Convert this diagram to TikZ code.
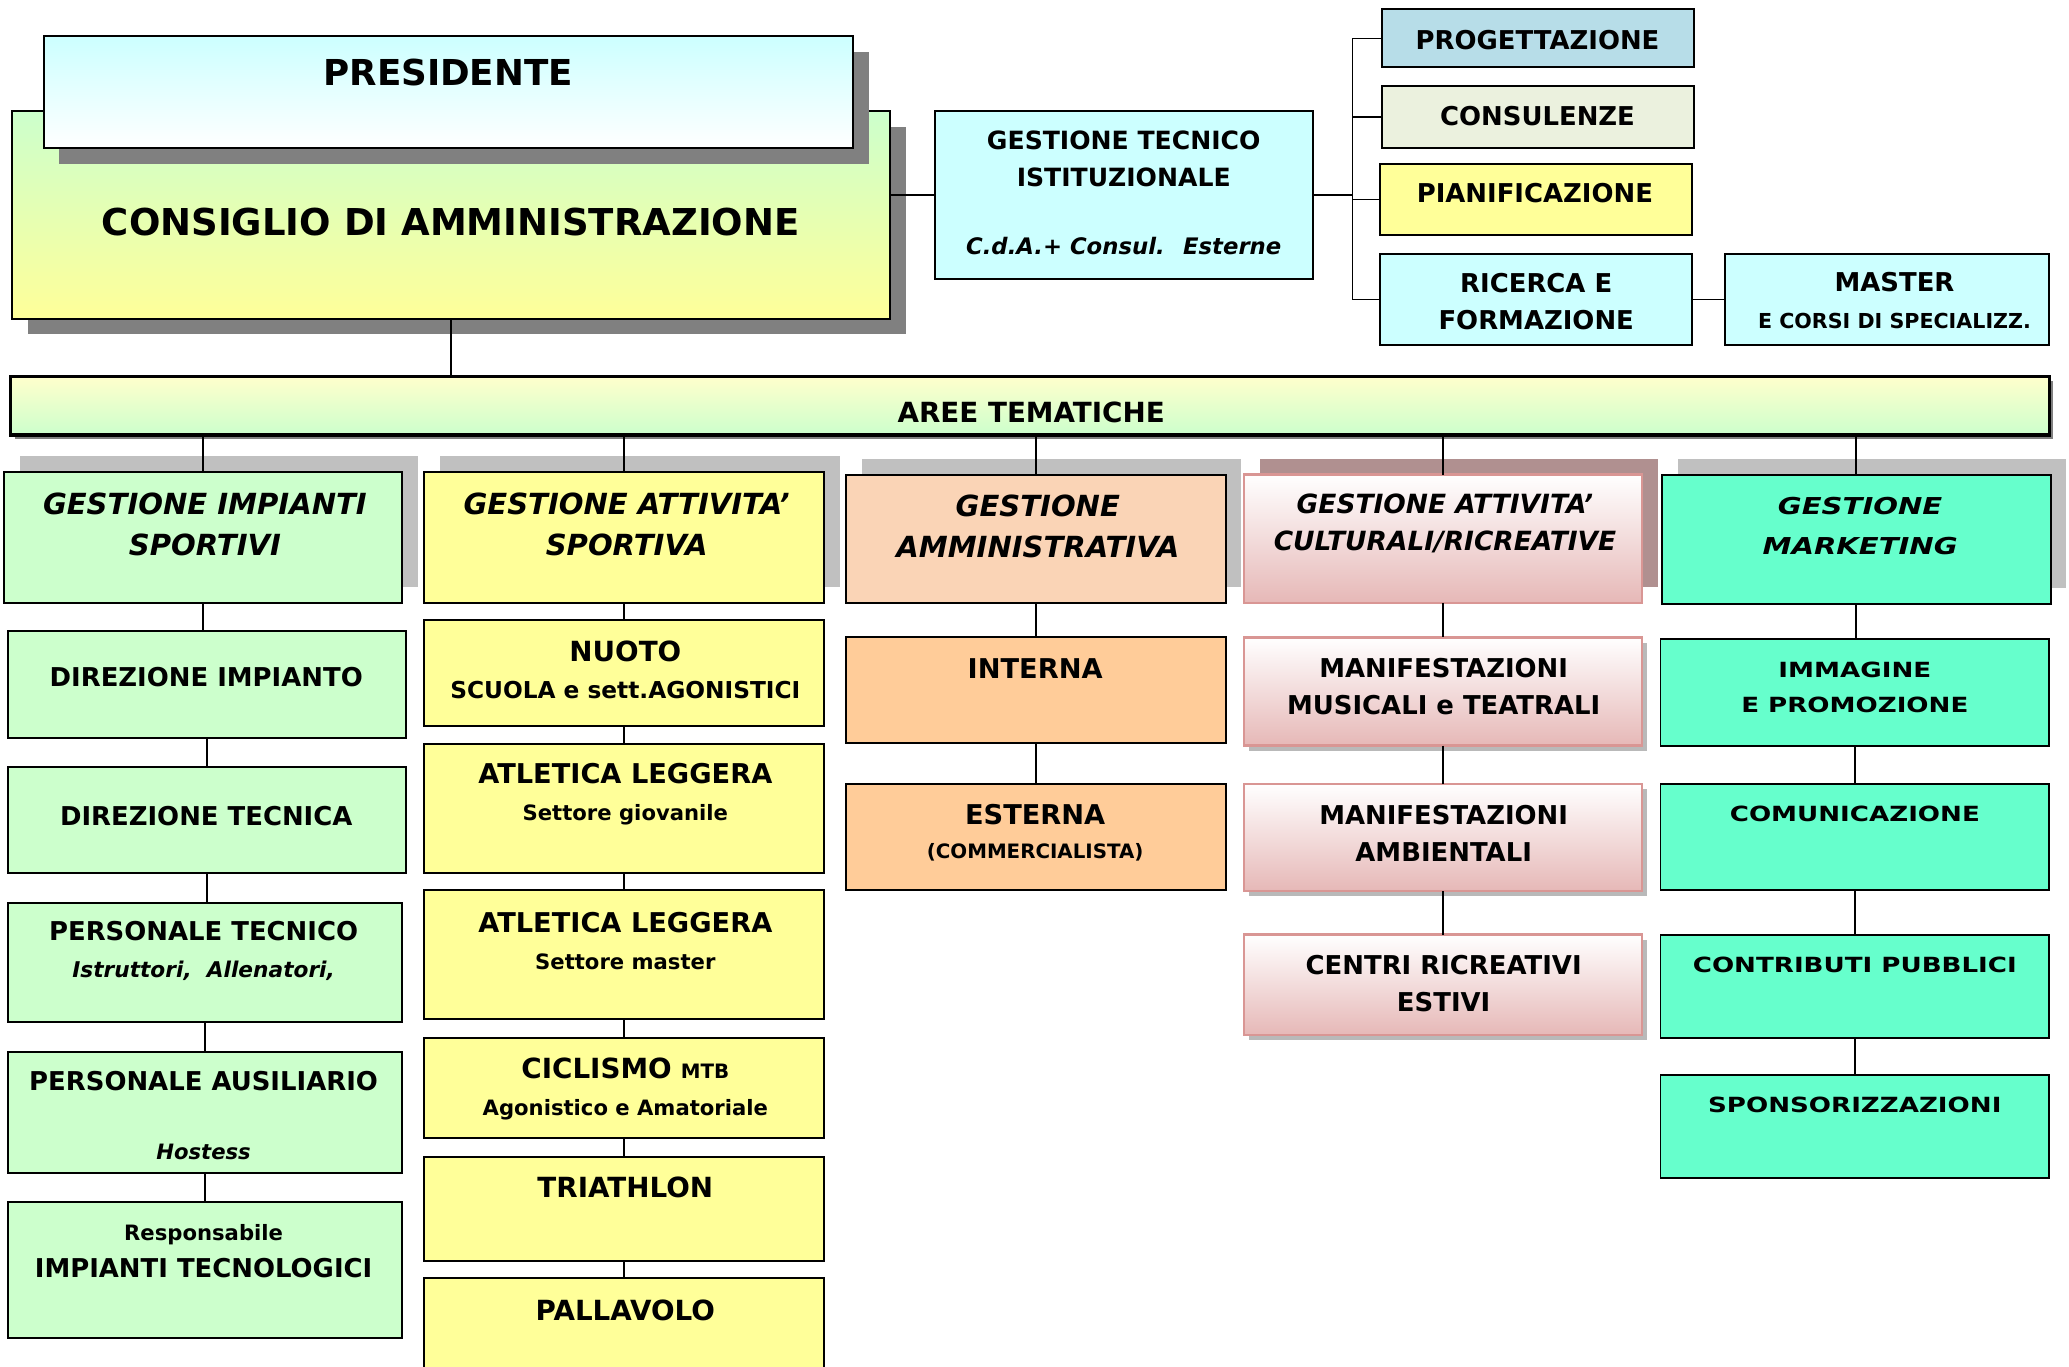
\documentclass[tikz,border=0pt]{standalone}
\usepackage{fontspec}
\setmainfont{DejaVu Sans}
\newfontfamily\widefont{DejaVu Sans}[FakeStretch=1.25]
\usetikzlibrary{shadows}
\definecolor{cyanbox}{HTML}{CCFFFF}
\definecolor{greenbox}{HTML}{CCFFCC}
\definecolor{yellowbox}{HTML}{FFFF99}
\definecolor{paleyellow}{HTML}{FFFFCC}
\definecolor{peachhead}{HTML}{FAD4B6}
\definecolor{peachbox}{HTML}{FFCC99}
\definecolor{pinkbox}{HTML}{E6B8B7}
\definecolor{pinkline}{HTML}{D99694}
\definecolor{mintbox}{HTML}{66FFCC}
\definecolor{bluebox}{HTML}{B7DDE8}
\definecolor{palebox}{HTML}{EBF1DE}
\definecolor{darkshadow}{HTML}{808080}
\definecolor{lightshadow}{HTML}{C0C0C0}
\definecolor{roseshadow}{HTML}{B09090}
\newcommand\minorsize{\fontsize{8}{14}\selectfont}
\tikzset{
  box/.style={draw=black, line width=0.75pt, rectangle, inner sep=0pt, outer sep=0pt},
  pinkbx/.style={box, draw=pinkline, line width=1pt, top color=white, bottom color=pinkbox},
  txt/.style={inner sep=0pt, align=center, font=\fontsize{9.8}{14}\selectfont\bfseries},
  headtxt/.style={txt, font=\fontsize{11}{15.5}\selectfont\bfseries\itshape},
  widetxt/.style={txt, font=\widefont\fontsize{7.9}{13.5}\selectfont\bfseries},
  shadowdown/.style={general shadow={fill=#1, shadow xshift=6pt, shadow yshift=-6pt}},
  shadowdown/.default=darkshadow,
  shadowup/.style={general shadow={fill=#1, shadow xshift=6pt, shadow yshift=6pt}},
  shadowup/.default=lightshadow,
  thinshadow/.style={general shadow={fill=gray!55, shadow xshift=2pt, shadow yshift=-2pt}},
  link/.style={line width=0.6pt},
}
\begin{document}
\begin{tikzpicture}[x=0.5pt, y=-0.5pt]
  \useasboundingbox (0,0) rectangle (1565,1034);
  % top
  \node[box, shadowdown, top color=greenbox, bottom color=yellowbox, minimum width=332pt, minimum height=78.5pt] (cda) at (341,162.5) {};
  \node[box, shadowdown, top color=cyanbox, bottom color=white, minimum width=306pt, minimum height=42.5pt] (pres) at (339,69.5) {};
  \node[box, fill=cyanbox, minimum width=143pt, minimum height=63.5pt] (gti) at (850,147.5) {};
  \node[box, fill=bluebox, minimum width=118pt, minimum height=22pt] (prog) at (1163,29) {};
  \node[box, fill=palebox, minimum width=118pt, minimum height=23.5pt] (cons) at (1163,88.5) {};
  \node[box, fill=yellowbox, minimum width=118pt, minimum height=27pt] (pian) at (1162,151) {};
  \node[box, fill=cyanbox, minimum width=118pt, minimum height=34.5pt] (ric) at (1162,226.5) {};
  \node[box, fill=cyanbox, minimum width=122.5pt, minimum height=34.5pt] (mas) at (1427.5,226.5) {};
  \node[box, line width=1.2pt, general shadow={fill=darkshadow, shadow xshift=1.5pt, shadow yshift=-1.5pt}, top color=paleyellow, bottom color=greenbox, minimum width=771pt, minimum height=22pt] (aree) at (779,307) {};

  \node[txt, font=\fontsize{13.5}{16}\selectfont\bfseries] (presT) at (339,55) {PRESIDENTE};
  \node[txt, font=\fontsize{14}{16}\selectfont\bfseries] (cdaT) at (341,168) {CONSIGLIO DI AMMINISTRAZIONE};
  \node[txt, font=\fontsize{9.5}{14}\selectfont\bfseries] (gtiT) at (850,146) {GESTIONE TECNICO\\ISTITUZIONALE\\[11.5pt]{\itshape\fontsize{8.6}{14}\selectfont C.d.A.+ Consul.~ Esterne}};
  \node[txt] (progT) at (1163,30) {PROGETTAZIONE};
  \node[txt] (consT) at (1163,88) {CONSULENZE};
  \node[txt] (pianT) at (1161,146) {PIANIFICAZIONE};
  \node[txt] (ricT) at (1162,228) {RICERCA E\\FORMAZIONE};
  \node[txt] (masT) at (1433,227) {MASTER\\{\fontsize{7.8}{13}\selectfont E CORSI DI SPECIALIZZ.}};
  \node[txt, font=\fontsize{10.5}{14}\selectfont\bfseries] (areeT) at (780,312) {AREE TEMATICHE};

  \draw[link] (cda.south) -- (cda.south |- aree.north);
  \draw[link] (gti.west) -- (gti.west -| cda.east);
  \coordinate (fork) at (1023,147.5);
  \draw[link] (gti.east) -- (fork);
  \draw[link] (prog.west) -| (fork);
  \draw[link] (cons.west) -| (fork);
  \draw[link] (pian.west) -| (fork);
  \draw[link] (ric.west) -| (fork);
  \draw[link] (ric.east) -- (mas.west);

  % aree tematiche
  \node[box, shadowup, fill=greenbox, minimum width=150.5pt, minimum height=49.5pt] (h1) at (153.5,406.5) {};
  \node[box, shadowup, fill=yellowbox, minimum width=151pt, minimum height=49.5pt] (h2) at (472,406.5) {};
  \node[box, shadowup, fill=peachhead, minimum width=143.5pt, minimum height=48.5pt] (h3) at (783.5,407.5) {};
  \node[pinkbx, shadowup={roseshadow}, minimum width=150.5pt, minimum height=48.5pt] (h4) at (1091.5,407.5) {};
  \node[box, shadowup, fill=mintbox, minimum width=147pt, minimum height=49pt] (h5) at (1404,408) {};

  \node[headtxt] (h1T) at (155,397) {GESTIONE IMPIANTI\\SPORTIVI};
  \node[headtxt] (h2T) at (474,397) {GESTIONE ATTIVITA'\\SPORTIVA};
  \node[headtxt] (h3T) at (785,398) {GESTIONE\\AMMINISTRATIVA};
  \node[headtxt, font=\fontsize{10}{14}\selectfont\bfseries\itshape] (h4T) at (1093,396) {GESTIONE ATTIVITA'\\CULTURALI/RICREATIVE};
  \node[widetxt, font=\widefont\fontsize{8.8}{15}\selectfont\bfseries\itshape] (h5T) at (1407,398) {GESTIONE\\MARKETING};

  \draw[link] (h1.north) -- (h1.north |- aree.south);
  \draw[link] (h2.north) -- (h2.north |- aree.south);
  \draw[link] (h3.north) -- (h3.north |- aree.south);
  \draw[link] (h4.north) -- (h4.north |- aree.south);
  \draw[link] (h5.north) -- (h5.north |- aree.south);

  % impianti sportivi
  \node[box, fill=greenbox, minimum width=150.5pt, minimum height=40.5pt] (a1) at (156.5,517.5) {};
  \node[box, fill=greenbox, minimum width=150.5pt, minimum height=40pt] (a2) at (156.5,620) {};
  \node[box, fill=greenbox, minimum width=149pt, minimum height=45pt] (a3) at (155,728) {};
  \node[box, fill=greenbox, minimum width=149pt, minimum height=45.5pt] (a4) at (155,841.5) {};
  \node[box, fill=greenbox, minimum width=149pt, minimum height=51.5pt] (a5) at (155,960.5) {};
  \node[txt] (a1T) at (156,512) {DIREZIONE IMPIANTO};
  \node[txt] (a2T) at (156,617) {DIREZIONE TECNICA};
  \node[txt] (a3T) at (154,719) {PERSONALE TECNICO\\{\itshape\fontsize{8.2}{14}\selectfont Istruttori,~ Allenatori,}};
  \node[txt] (a4T) at (154,844) {PERSONALE AUSILIARIO\\[12pt]{\itshape\minorsize Hostess}};
  \node[txt] (a5T) at (154,946) {{\minorsize Responsabile}\\IMPIANTI TECNOLOGICI};
  \draw[link] (h1.south) -- (h1.south |- a1.north);
  \draw[link] (a1.south) -- (a2.north);
  \draw[link] (a2.south) -- (a2.south |- a3.north);
  \draw[link] (a3.south) -- (a4.north);
  \draw[link] (a4.south) -- (a5.north);

  % attivita sportiva
  \node[box, fill=yellowbox, minimum width=151pt, minimum height=40pt] (b1) at (472,509) {};
  \node[box, fill=yellowbox, minimum width=151pt, minimum height=48.5pt] (b2) at (472,611.5) {};
  \node[box, fill=yellowbox, minimum width=151pt, minimum height=49pt] (b3) at (472,722) {};
  \node[box, fill=yellowbox, minimum width=151pt, minimum height=38pt] (b4) at (472,823) {};
  \node[box, fill=yellowbox, minimum width=151pt, minimum height=39.5pt] (b5) at (472,914.5) {};
  \node[box, fill=yellowbox, minimum width=151pt, minimum height=41.5pt] (b6) at (472,1008.5) {};
  \node[txt] (b1T) at (473,507) {{\fontsize{10.5}{14}\selectfont NUOTO}\\{\fontsize{8.8}{14}\selectfont SCUOLA e sett.AGONISTICI}};
  \node[txt] (b2T) at (473,601) {{\fontsize{10.3}{14}\selectfont ATLETICA LEGGERA}\\{\minorsize Settore giovanile}};
  \node[txt] (b3T) at (473,712) {{\fontsize{10.3}{14}\selectfont ATLETICA LEGGERA}\\{\minorsize Settore master}};
  \node[txt] (b4T) at (473,824) {{\fontsize{10.5}{14}\selectfont CICLISMO} {\fontsize{7.5}{14}\selectfont MTB}\\{\minorsize Agonistico e Amatoriale}};
  \node[txt, font=\fontsize{10.5}{14}\selectfont\bfseries] (b5T) at (473,898) {TRIATHLON};
  \node[txt, font=\fontsize{10.5}{14}\selectfont\bfseries] (b6T) at (473,991) {PALLAVOLO};
  \draw[link] (h2.south) -- (b1.north);
  \draw[link] (b1.south) -- (b2.north);
  \draw[link] (b2.south) -- (b3.north);
  \draw[link] (b3.south) -- (b4.north);
  \draw[link] (b4.south) -- (b5.north);
  \draw[link] (b5.south) -- (b6.north);

  % amministrativa
  \node[box, fill=peachbox, minimum width=143.5pt, minimum height=40pt] (c1) at (783.5,522) {};
  \node[box, fill=peachbox, minimum width=143.5pt, minimum height=40pt] (c2) at (783.5,633) {};
  \node[txt, font=\fontsize{10.3}{14}\selectfont\bfseries] (c1T) at (783,506) {INTERNA};
  \node[txt, font=\fontsize{10.3}{14}\selectfont\bfseries] (c2T) at (783,630) {ESTERNA\\[-1pt]{\fontsize{7.5}{14}\selectfont (COMMERCIALISTA)}};
  \draw[link] (h3.south) -- (c1.north);
  \draw[link] (c1.south) -- (c2.north);

  % culturali / ricreative
  \node[pinkbx, thinshadow, minimum width=150.5pt, minimum height=41pt] (d1) at (1091.5,523) {};
  \node[pinkbx, thinshadow, minimum width=150.5pt, minimum height=40.5pt] (d2) at (1091.5,633.5) {};
  \node[pinkbx, thinshadow, minimum width=150.5pt, minimum height=38pt] (d3) at (1091.5,745) {};
  \node[txt] (d1T) at (1092,519) {MANIFESTAZIONI\\MUSICALI e TEATRALI};
  \node[txt] (d2T) at (1092,630) {MANIFESTAZIONI\\AMBIENTALI};
  \node[txt] (d3T) at (1092,744) {CENTRI RICREATIVI\\ESTIVI};
  \draw[link] (h4.south) -- (d1.north);
  \draw[link] (d1.south) -- (d2.north);
  \draw[link] (d2.south) -- (d3.north);

  % marketing
  \node[box, fill=mintbox, minimum width=147pt, minimum height=40.5pt] (e1) at (1403,523.5) {};
  \node[box, fill=mintbox, minimum width=147pt, minimum height=40pt] (e2) at (1403,633) {};
  \node[box, fill=mintbox, minimum width=147pt, minimum height=39pt] (e3) at (1403,746) {};
  \node[box, fill=mintbox, minimum width=147pt, minimum height=39pt] (e4) at (1403,852) {};
  \node[widetxt] (e1T) at (1403,520) {IMMAGINE\\E PROMOZIONE};
  \node[widetxt] (e2T) at (1403,616) {COMUNICAZIONE};
  \node[widetxt] (e3T) at (1403,730) {CONTRIBUTI PUBBLICI};
  \node[widetxt] (e4T) at (1403,836) {SPONSORIZZAZIONI};
  \draw[link] (h5.south) -- (h5.south |- e1.north);
  \draw[link] (e1.south) -- (e2.north);
  \draw[link] (e2.south) -- (e3.north);
  \draw[link] (e3.south) -- (e4.north);
\end{tikzpicture}
\end{document}
